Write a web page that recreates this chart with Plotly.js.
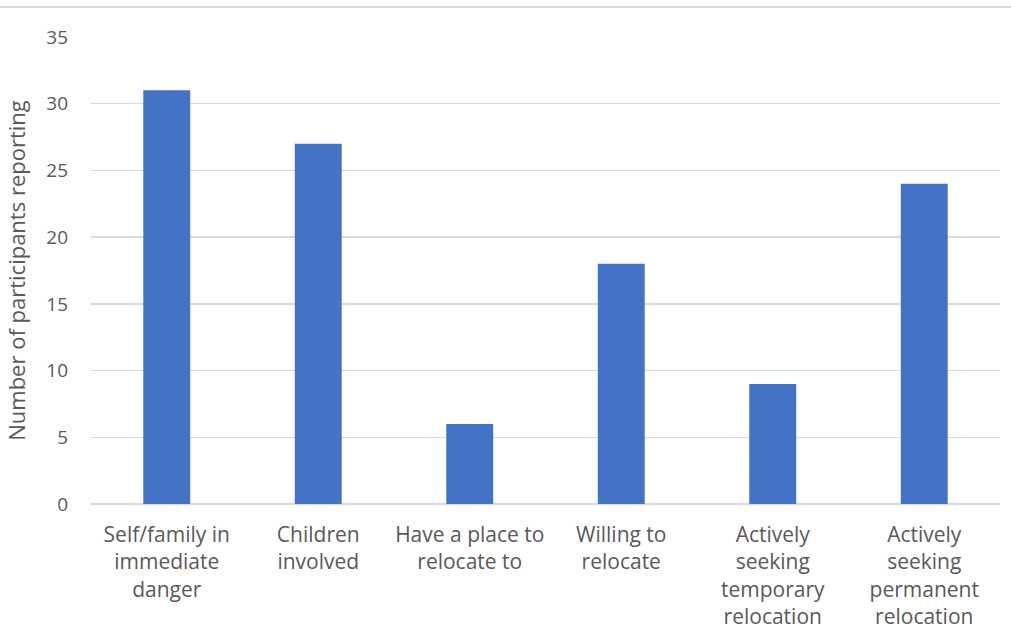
<!DOCTYPE html>
<html><head><meta charset="utf-8">
<script src="https://cdn.plot.ly/plotly-3.0.1.min.js"></script>
<style>html,body{margin:0;padding:0;background:#fff;}#wrap{position:relative;width:1011px;height:632px;}#topline{position:absolute;left:0;top:6px;width:1011px;height:2px;background:#d9d9d9;}#chart{position:absolute;left:0;top:0;width:1011px;height:632px;}</style>
</head><body>
<div id="wrap"><div id="chart"></div><div id="topline"></div></div>
<script>
var categories = ["Self/family in<br>immediate<br>danger","Children<br>involved","Have a place to<br>relocate to","Willing to<br>relocate","Actively<br>seeking<br>temporary<br>relocation","Actively<br>seeking<br>permanent<br>relocation"];
var values = [31, 27, 6, 18, 9, 24];
var yTicks = [0,5,10,15,20,25,30,35];
var yTitle = "Number of participants reporting";

var fnt = "Open Sans, Liberation Sans, sans-serif";
Plotly.newPlot('chart', [{
  type: 'bar', x: categories, y: values,
  marker: {color: '#4472c4'}, hoverinfo: 'none'
}], {
  width: 1011, height: 632,
  margin: {l: 91, r: 11, t: 37, b: 128},
  paper_bgcolor: '#fff', plot_bgcolor: '#fff',
  bargap: 0.69,
  showlegend: false,
  xaxis: {
    tickfont: {family: fnt, size: 21, color: '#595959'},
    showgrid: false, showline: false, zeroline: false,
    ticks: '', ticklabelstandoff: 16
  },
  yaxis: {
    range: [0, 35], tickvals: yTicks, ticktext: yTicks.map(String),
    tickfont: {family: fnt, size: 19, color: '#595959'},
    showgrid: true, gridcolor: '#d9d9d9', gridwidth: 1.3,
    zeroline: true, zerolinecolor: '#d9d9d9', zerolinewidth: 1.3,
    showline: false, ticks: '', ticklabelstandoff: 22,
    title: {text: yTitle, font: {family: fnt, size: 22, color: '#595959'}, standoff: 14}
  }
}, {displayModeBar: false, staticPlot: true});
</script>
</body></html>
